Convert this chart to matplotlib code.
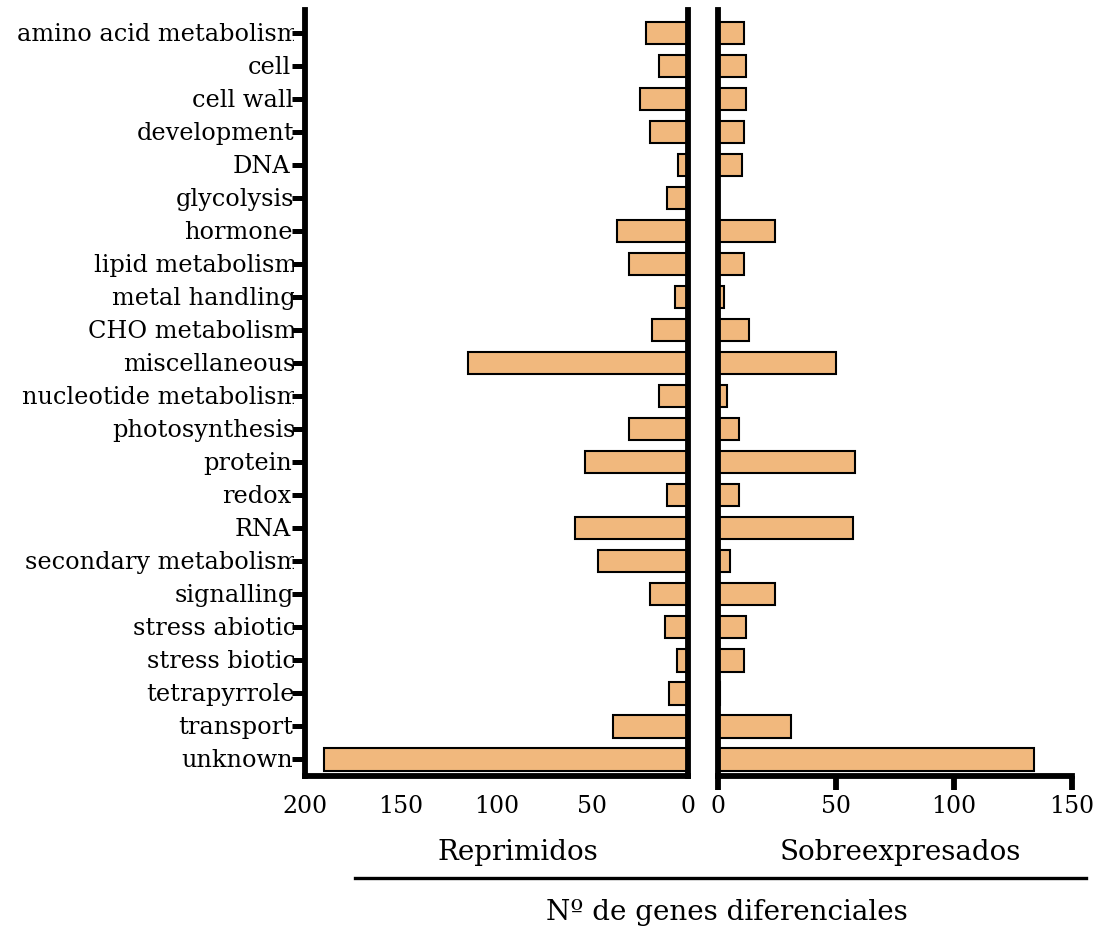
import matplotlib
matplotlib.use("Agg")
import matplotlib.pyplot as plt
from matplotlib.lines import Line2D
from matplotlib.transforms import Bbox, TransformedBbox, blended_transform_factory
import numpy as np

categories = [
    "amino acid metabolism", "cell", "cell wall", "development", "DNA",
    "glycolysis", "hormone", "lipid metabolism", "metal handling",
    "CHO metabolism", "miscellaneous", "nucleotide metabolism",
    "photosynthesis", "protein", "redox", "RNA", "secondary metabolism",
    "signalling", "stress abiotic", "stress biotic", "tetrapyrrole",
    "transport", "unknown",
]
reprimidos = [22, 15, 25, 20, 5, 11, 37, 31, 7, 19, 115, 15, 31, 54, 11,
              59, 47, 20, 12, 6, 10, 39, 190]
sobreexpresados = [11, 12, 12, 11, 10, 0, 24, 11, 2.5, 13, 50, 4, 9, 58, 9,
                   57, 5, 24, 12, 11, 1, 31, 134]
left_ticks = [200, 150, 100, 50, 0]
right_ticks = [0, 50, 100, 150]

W, H = 1099, 931
fig = plt.figure(figsize=(W / 100, H / 100), dpi=100)
plt.rcParams["font.family"] = ["DejaVu Serif"]

def fx(px):
    return px / W

def fy(py):
    return 1 - py / H

top, bottom = 10, 776
ax_l = fig.add_axes([fx(305), fy(bottom), fx(688 - 305), (bottom - top) / H])
ax_r = fig.add_axes([fx(718), fy(bottom), fx(1072 - 718), (bottom - top) / H])

bar_color = "#F1B87D"
y = np.arange(len(categories))
spine_w = 4.2

for ax, vals in ((ax_l, reprimidos), (ax_r, sobreexpresados)):
    ax.barh(y, vals, height=0.67, color=bar_color, edgecolor="black",
            linewidth=1.5, zorder=2)
    ax.set_ylim(len(categories) - 1 + 0.5, -0.7)
    for s in ax.spines.values():
        s.set_linewidth(spine_w)
        s.set_zorder(5)
    ax.spines["top"].set_visible(False)

# Left panel: reversed axis
ax_l.set_xlim(200, 0)
ax_l.set_xticks(left_ticks)
ax_l.set_xticklabels([str(v) for v in left_ticks])
ax_l.tick_params(axis="x", length=0, pad=14, labelsize=17)
ax_l.set_xticks([0], minor=True)
ax_l.tick_params(axis="x", which="minor", length=10, width=spine_w)
ax_l.set_yticks(y)
ax_l.set_yticklabels([])
ax_l.tick_params(axis="y", length=9.4, width=3.6)
ax_l.spines["right"].set_visible(True)

# Category labels, tucked under the tick marks at the axis edge
clip = TransformedBbox(Bbox([[0, 0], [fx(294), 1]]), fig.transFigure)
lab_tr = blended_transform_factory(fig.transFigure, ax_l.transData)
for yi, name in zip(y, categories):
    right_edge = 289 + 0.5 * len(name)
    t = ax_l.text(fx(right_edge), yi + 0.03, name, transform=lab_tr, ha="right",
                  va="center", fontsize=17.3, clip_on=True, zorder=1)
    t.set_clip_box(clip)

# Right panel
ax_r.set_xlim(0, 150)
ax_r.set_xticks(right_ticks)
ax_r.set_xticklabels([str(v) for v in right_ticks])
ax_r.tick_params(axis="x", length=10, width=spine_w, pad=4, labelsize=17)
ax_r.set_yticks([])
ax_r.spines["right"].set_visible(False)

# Group titles and shared axis title
fig.text(fx(518), fy(853), "Reprimidos", ha="center", va="center", fontsize=20)
fig.text(fx(900), fy(853), "Sobreexpresados", ha="center", va="center", fontsize=20)
fig.add_artist(Line2D([fx(355), fx(1086)], [fy(878), fy(878)],
                      color="black", linewidth=2.4, transform=fig.transFigure))
fig.text(fx(727), fy(913), "Nº de genes diferenciales", ha="center",
         va="center", fontsize=20)

fig.savefig("out.png", dpi=100, facecolor="white")
